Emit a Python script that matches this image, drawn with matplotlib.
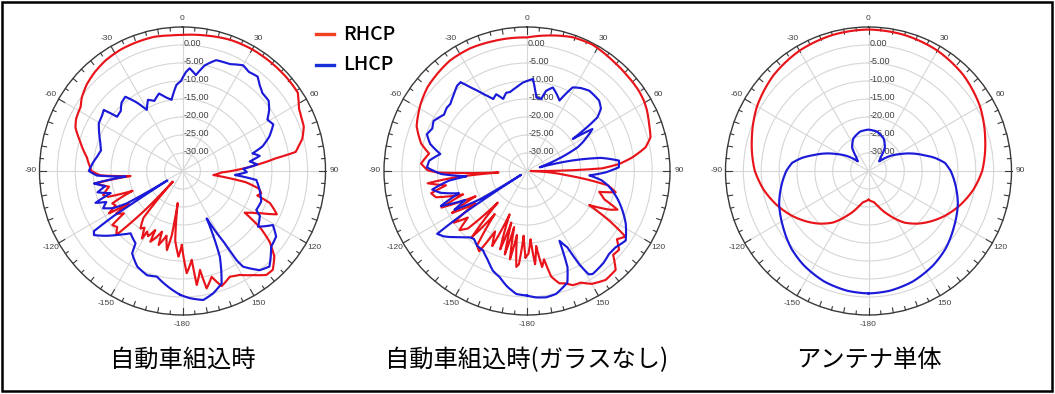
import numpy as np
import matplotlib
matplotlib.use('Agg')
import matplotlib.pyplot as plt
from matplotlib.lines import Line2D
from matplotlib.patches import Rectangle
import matplotlib.transforms as mtransforms

plt.rcParams['font.family'] = ['Noto Sans CJK JP', 'DejaVu Sans']

TITLES = ['自動車組込時', '自動車組込時(ガラスなし)', 'アンテナ単体']
SERIES = ['RHCP', 'LHCP']
RING_DB = [0, -5, -10, -15, -20, -25, -30]
ANGLE_TICKS = [0, 30, 60, 90, 120, 150, 180, -150, -120, -90, -60, -30]
ANGLE_LABELS = ['0', '30', '60', '90', '120', '150', '-180', '-150', '-120', '-90', '-60', '-30']

# ---- 自動車組込時 ----
CAR_RHCP_DEG = [-179.5, -177.3, -174, -171.5, -170.5, -168.8, -166, -162, -161.2, -158, -155.4, -155.1, -152,
                -149.5, -148.9, -146, -143.6, -140, -137.5, -136, -133.8, -130.5, -127.4, -125.7, -122.5,
                -120.9, -119.8, -117, -114.6, -111.5, -109, -106.7, -102, -98, -95.5, -93, -90, -88, -82,
                -74, -68, -64, -58, -54, -48, -42, -35, -27, -20, -12, -5, 0, 5, 10, 20, 30, 40, 50, 56,
                58, 62, 66, 70, 75, 78, 80.5, 82.3, 85.4, 88.3, 92, 97.4, 100, 103, 105.7, 108, 110, 114.5,
                118, 121, 123.6, 126, 128.9, 132.8, 137.4, 140.9, 145.7, 151, 155.7, 161.1, 164.5, 168.3,
                169.9, 172.8, 174, 177.6]
CAR_RHCP_DB = [-14.4, -11.2, -15.6, -26, -17, -12.6, -16.5, -13.4, -17.2, -15, -13.4, -16.9, -14.5,
               -15.5, -13.1, -16, -15.2, -18, -31, -20, -9.3, -11, -10.3, -14.8, -13,
               -17.5, -11.3, -14, -13.4, -20, -13, -11.8, -14, -10.5, -20.4, -12, -9.5, -9.2, -8.0,
               -5.2, -2.7, -1.9, -1.4, -0.2, 1.0, 1.8, 2.5, 2.9, 3.0, 3.1, 2.8, 2.8, 3.0, 3.2, 3.8, 4.0, 4.0, 4.0, 3.9,
               3.2, 1.9, 1.4, 1.1, -0.3, -1.8, -2.9, -8.7, -14.4, -19, -24, -26.3, -17, -13, -12.1, -13, -9, -6.0,
               -10, -12.5, -14.1, -8, -3.7, 0, 2.3, 2.2, 0, -2, -2.8, -1.2, -4.5, -1.7,
               -7.1, -3.1, -10.2, -6.6]

CAR_LHCP_DEG = [-178.9, -172.2, -166.3, -161.1, -154.5, -148.4, -146.8, -140, -135, -130, -125.7, -124,
                -123, -122.5, -121.7, -120, -118, -115, -112, -110, -107, -104, -101, -98, -95.5, -93, -90,
                -84, -80.5, -76, -71.5, -66, -60.5, -56, -52.4, -50.5, -46, -42, -37.8, -34, -30.5, -26,
                -22, -17, -13, -8.8, -4, -1, 2, 4, 8, 12, 17, 24, 30, 34, 38.7, 42, 46, 51, 55, 59, 63,
                68.5, 73, 76, 79, 82, 85, 88, 91, 94.3, 96.9, 103.7, 111.1, 117.7, 120, 126.2, 120.7,
                124.8, 130.3, 137.5, 141.9, 147.5, 148.6, 149.5, 152.8, 156.3, 160.7, 165.8, 170.8, 176.6]
CAR_LHCP_DB = [-0.6, -2.8, -4.8, -4.4, -5.6, -8.1, -11, -12.4, -10, -7, -4.5, -5.1,
               -12, -24, -30, -17, -13, -10.5, -12, -9.1, -14, -10.5, -13, -10, -19, -11, -8.8,
               -10, -10.8, -11.5, -10.8, -9.5, -8.1, -7.8, -7.2, -11.3, -11, -9.5, -8.9, -12, -15.3, -13,
               -14, -12.5, -14, -15, -11, -10, -7.5, -6.4, -8.1, -5, -2.8, -2.5, -1.1, -1.8, -1.4, -2.8, -3.9, -4, -5.4, -7.3, -6.5,
               -8.9, -11.6, -14.8, -13, -16, -14, -18, -17, -20.3, -14.2, -12.8, -11.4, -11.7, -10, -8.8, -5.6,
               -3.1, -2.5, 1.0, 0, -3.5, -6, -11.7, -20.2, -9, -1.9, 0.05, 1.3, 0.4]

# ---- 自動車組込時(ガラスなし) ----
GLASSLESS_RHCP_DEG = [-179, -177, -175, -173.6, -171, -169, -167, -165, -163, -161, -158, -155, -152,
                      -149, -146, -143, -140, -137, -134, -131, -128, -125, -122, -119, -116, -113, -110,
                      -106, -103, -100, -97, -95, -93, -91, -89.6, -86, -80, -75.5, -68, -58, -50, -35, -25,
                      -15, -8, 0, 8, 19, 27.5, 38, 45.7, 54.5, 59, 63, 67.7, 74.8, 78.8, 82.7, 85.7, 88,
                      90.5, 96, 100, 103.4, 106, 110, 113, 115, 118.5, 121, 123.5, 127, 130.4, 134, 137.9,
                      144, 150, 154, 158, 161, 163.8, 167, 169, 171, 173, 175, 177, 179]
GLASSLESS_RHCP_DB = [-11, -17, -9, -8.2, -17, -10, -19, -11, -20, -12, -22, -12, -16,
                     -9, -10, -20, -11, -23, -12, -10, -14, -10, -18, -11, -19, -9, -16,
                     -8.5, -7.5, -12, -7, -15, -27, -10, -7.2, -5.3, -7.2, -4.4, -1.7, 0.1, 1.3, 2.5, 2.6,
                     2.3, 2.2, 2.1, 3.0, 4.3, 4.6, 3.9, 3.6, 3.4, 3.1, 2.6, 1.8, 0.8, -1.2, -5.3, -9.2, -14,
                     -34, -24, -12, -9.5, -14, -12, -7.5, -9.6, -15.2, -8, -2, -3.5, -1.2, -1.5, 2.0,
                     2.4, 1.2, -0.5, -0.8, -2, -2.5, -4.9, -10, -8, -14, -9, -16, -12]

GLASSLESS_LHCP_DEG = [-180, -175, -170, -165.6, -161, -156, -151, -146, -142, -139, -135, -131, -128, -124.8,
                      -123.5, -122.5, -121, -118, -115, -112, -108, -104, -101, -97, -95, -92, -88, -84, -79,
                      -74.5, -70, -66, -62, -56, -52, -49, -44, -39.6, -37, -34.4, -29.7, -25.3, -22, -18.4,
                      -15, -12.4, -7, -2.6, 3.7, 7.2, 11.2, 13.5, 17.3, 21, 24.9, 28.8, 33, 38, 45.9, 50, 52.9,
                      54, 55.2, 57.5, 62.9, 65.1, 68, 72, 74, 77, 80, 83.6, 87.7, 91, 94, 97, 100, 102.9, 107,
                      112.4, 118, 125, 130.5, 135, 140, 147.3, 149, 150.5, 152, 154.9, 157, 160, 166.6, 171.3,
                      176]
GLASSLESS_LHCP_DB = [-0.4, -0.7, -2.5, -4.5, -5.7, -8, -9.7, -10, -11, -10.6, -9, -7, -5.5, -4.4,
                     -15, -33, -20, -12, -16, -9, -15, -10, -8, -13, -18, -11, -7, -7.5, -10.3,
                     -6.9, -5.2, -6, -5.4, -7, -6.5, -6.6, -5.5, -4.3, -4.1, -6.8, -10.4, -12.9, -12, -13.9,
                     -12.5, -12.6, -11.5, -10.4, -9.4, -14.4, -14.6, -12.1, -10.7, -12, -13.4, -8.5, -7.5, -6.7, -6.9, -8, -10.3,
                     -13.8, -19.4, -13.3, -17.5, -19.4, -24, -30, -31.3, -22, -14, -9.1, -9.3, -13, -17.5, -14, -12, -10.5, -8.5,
                     -6.1, -3.7, -1.3, -2.4, -2.5, -1.7, -1.0, -1.5, -5, -11, -13.6, -6, -2, 0.1, 0.5,
                     0.2]

# ---- アンテナ単体 ----
ANT_RHCP_DEG = [-180, -170, -165, -155, -145, -137, -130, -120, -110, -100, -90, -75, -60, -45, -30, -15,
                0, 15, 30, 45, 60, 75, 90, 100, 110, 120, 130, 137, 145, 155, 165, 170]
ANT_RHCP_DB = [-27, -26.2, -25, -21.5, -17.5, -15, -13, -10.2, -7.6, -5.2, -3.2, -1.2, 1.0, 2.6, 3.6, 4.1,
               4.3, 4.1, 3.6, 2.6, 1.0, -1.2, -3.2, -5.2, -7.6, -10.2, -13, -15, -17.5, -21.5, -25, -26.2]

ANT_LHCP_DEG = [-180, -170, -158, -145, -135, -123, -110, -100, -90, -84, -79, -74, -68, -62, -55, -48, -42,
                -35, -25, -12, 0, 12, 25, 35, 42, 48, 55, 62, 68, 74, 79, 84, 90, 100, 110, 123, 135, 145,
                158, 170]
ANT_LHCP_DB = [-1.0, -1.2, -1.9, -3.2, -4.5, -6.5, -8.4, -10.2, -12, -13.5, -16, -19, -22, -25, -27.8, -31, -30,
               -27, -25, -23.8, -23.5, -23.8, -25, -27, -30, -31, -27.8, -25, -22, -19, -16, -13.5, -12, -10.2,
               -8.4, -6.5, -4.5, -3.2, -1.9, -1.2]

PANELS = [
    (CAR_RHCP_DEG, CAR_RHCP_DB, CAR_LHCP_DEG, CAR_LHCP_DB),
    (GLASSLESS_RHCP_DEG, GLASSLESS_RHCP_DB, GLASSLESS_LHCP_DEG, GLASSLESS_LHCP_DB),
    (ANT_RHCP_DEG, ANT_RHCP_DB, ANT_LHCP_DEG, ANT_LHCP_DB),
]

RED = '#e8141a'
BLUE = '#1a1ad8'
LEG_RED = '#f04020'
LEG_BLUE = '#1830d8'

W, H = 1055, 394
fig = plt.figure(figsize=(W / 100, H / 100), dpi=100)

CENTERS = [(182.5, 171), (527, 171), (868.5, 171)]
RX, RY = 143, 144
RMIN, RMAX = -35, 5
px_per_db = RY / (RMAX - RMIN)


def closed(deg, db):
    # close the measured loop back to its first sample (one full turn later)
    return np.deg2rad(list(deg) + [deg[0] + 360]), list(db) + [db[0]]


def trace(ax, deg, db, color, z):
    th, r = closed(deg, db)
    ln, = ax.plot(th, r, color=color, lw=1.55, zorder=z, solid_joinstyle='round')
    # let the polar transform follow the angle between samples
    ln.get_path()._interpolation_steps = 24
    return ln


for (cx, cy), title, (rd, rv, ld, lv) in zip(CENTERS, TITLES, PANELS):
    ax = fig.add_axes([(cx - RX) / W, (H - cy - RY) / H, 2 * RX / W, 2 * RY / H], projection='polar')
    ax.set_aspect('auto')
    ax.set_theta_zero_location('N')
    ax.set_theta_direction(-1)
    ax.set_ylim(RMIN, RMAX)
    ax.set_xticks(np.deg2rad(np.arange(0, 360, 30)))
    ax.set_yticks(RING_DB)
    ax.set_xticklabels([])
    ax.set_yticklabels([])
    ax.tick_params(length=0)
    ax.grid(True, color='#d6d6d6', lw=0.8)
    ax.spines['polar'].set_color('#3a3a3a')
    ax.spines['polar'].set_linewidth(1.0)
    ax.set_facecolor('white')
    for d in range(0, 360, 5):
        L = 7 if d % 30 == 0 else (5 if d % 10 == 0 else 3.5)
        ax.plot([np.deg2rad(d)] * 2, [RMAX, RMAX - L / px_per_db], color='#3a3a3a', lw=0.8,
                clip_on=False, zorder=3)
    for a, lab in zip(ANGLE_TICKS, ANGLE_LABELS):
        ax.text(np.deg2rad(a), RMAX + 9 / px_per_db, lab, ha='center', va='center', fontsize=6,
                color='#404040', family='Liberation Sans', clip_on=False)
    off = mtransforms.offset_copy(ax.transData, fig=fig, x=0.8, y=1, units='points')
    for v in RING_DB:
        ax.text(0, v, f'{v:.2f}', transform=off, ha='left', va='center', fontsize=6.5,
                color='#404040', family='Liberation Sans', zorder=2)
    trace(ax, rd, rv, RED, 4)
    trace(ax, ld, lv, BLUE, 5)
    fig.text(cx / W, 1 - 360 / H, title, ha='center', va='center', fontsize=17.5, color='black')

# legend
for i, (name, col) in enumerate(zip(SERIES, [LEG_RED, LEG_BLUE])):
    y = 1 - (34 + i * 31) / H
    fig.add_artist(Line2D([316 / W, 334 / W], [y, y], color=col, lw=2.4))
    fig.text(343 / W, y, name, ha='left', va='center', fontsize=14, color='black', fontweight='medium')

# border
fig.add_artist(Rectangle((1.8 / W, 1 - 390.8 / H), (1052 - 1.8) / W, (390.8 - 2.2) / H,
                         transform=fig.transFigure, fill=False, edgecolor='black', lw=1.8))

fig.savefig('out.png', dpi=100, facecolor='white')
